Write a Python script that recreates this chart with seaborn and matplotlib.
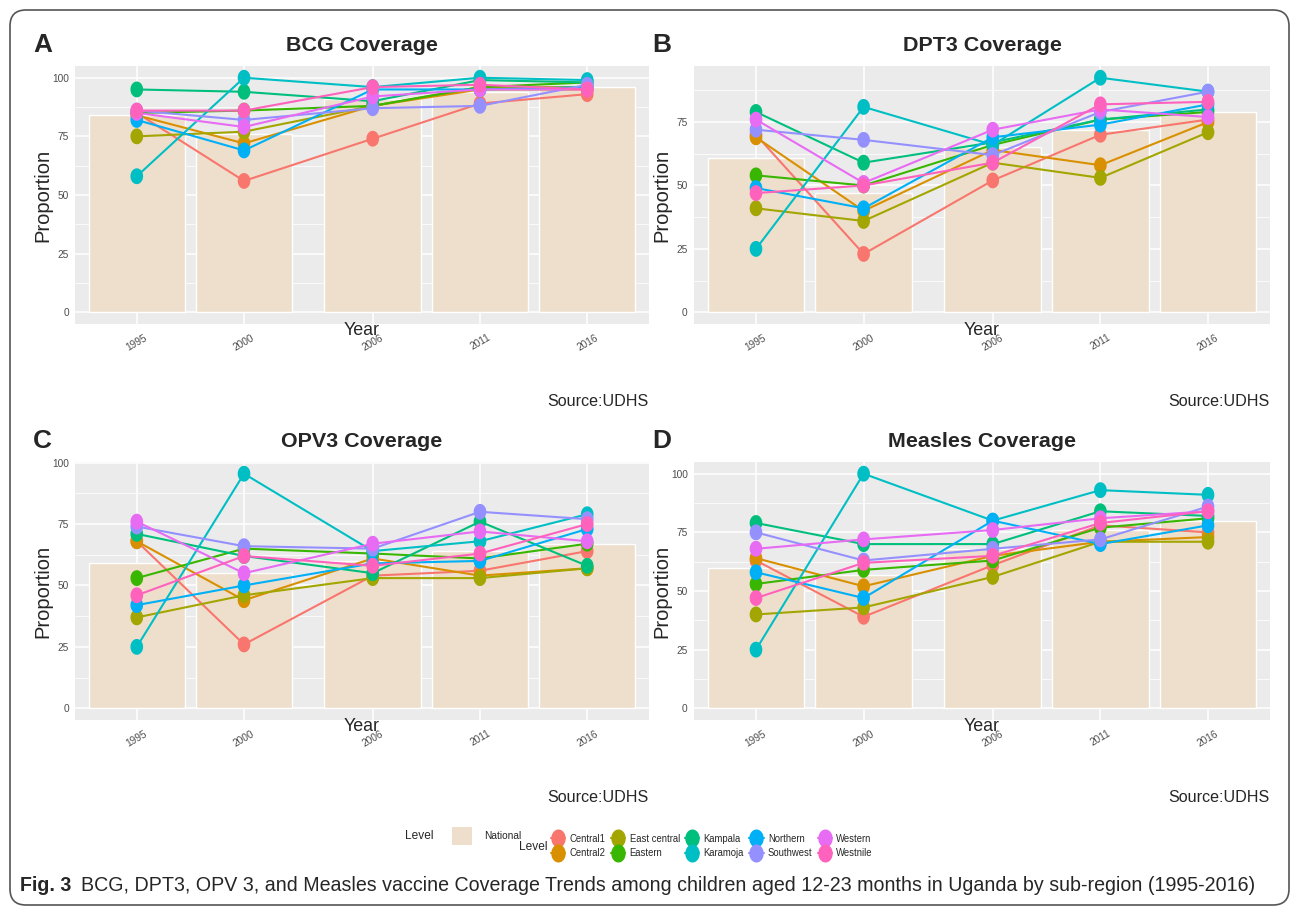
import numpy as np
import pandas as pd
import matplotlib
matplotlib.use("Agg")
import matplotlib.pyplot as plt
import seaborn as sns
from matplotlib import font_manager
from matplotlib.path import Path
from matplotlib.patches import FancyBboxPatch, Patch
from matplotlib.lines import Line2D
from matplotlib.transforms import IdentityTransform

# ---------------- data ----------------
years = [1995, 2000, 2006, 2011, 2016]
year_labels = ["1995", "2000", "2006", "2011", "2016"]
levels = ["Central1", "Central2", "East central", "Eastern", "Kampala",
          "Karamoja", "Northern", "Southwest", "Western", "Westnile"]
level_colors = ["#F8766D", "#D89000", "#A3A500", "#39B600", "#00BF7D",
                "#00BFC4", "#00B0F6", "#9590FF", "#E76BF3", "#FF62BC"]

national_bcg = [84, 76, 91, 94, 96]
bcg = {
    "Central1":     [85, 56, 74, 89, 93],
    "Central2":     [84, 72, 88, 95, 95],
    "East central": [75, 77, 88, 96, 96],
    "Eastern":      [85, 86, 88, 96, 98],
    "Kampala":      [95, 94, 90, 99, 98],
    "Karamoja":     [58, 100, 96, 100, 99],
    "Northern":     [82, 69, 95, 95, 96],
    "Southwest":    [86, 82, 87, 88, 97],
    "Western":      [85, 79, 92, 95, 95],
    "Westnile":     [86, 86, 96, 97, 95],
}

national_dpt3 = [61, 47, 65, 72, 79]
dpt3 = {
    "Central1":     [70, 23, 52, 70, 76],
    "Central2":     [69, 40, 64, 58, 75],
    "East central": [41, 36, 59, 53, 71],
    "Eastern":      [54, 50, 66, 76, 79],
    "Kampala":      [79, 59, 67, 76, 80],
    "Karamoja":     [25, 81, 66, 92.5, 87],
    "Northern":     [49, 41, 69, 74, 82],
    "Southwest":    [72, 68, 62, 79, 87],
    "Western":      [76, 51, 72, 80, 77],
    "Westnile":     [47, 50, 59, 82, 83],
}

national_opv3 = [59, 55, 60, 64, 67]
opv3 = {
    "Central1":     [68, 26, 54, 56, 64],
    "Central2":     [68, 44, 61, 54, 57],
    "East central": [37, 46, 53, 53, 57],
    "Eastern":      [53, 65, 63, 61, 67],
    "Kampala":      [71, 62, 55, 76, 58],
    "Karamoja":     [25, 95.5, 64, 68, 79],
    "Northern":     [42, 50, 59, 60, 73],
    "Southwest":    [74, 66, 65, 80, 77],
    "Western":      [76, 55, 67, 72, 68],
    "Westnile":     [46, 62, 58, 63, 75],
}

national_measles = [60, 57, 68, 76, 80]
measles = {
    "Central1":     [63, 39, 61, 78, 75],
    "Central2":     [64, 52, 65, 71, 73],
    "East central": [40, 43, 56, 71, 71],
    "Eastern":      [53, 59, 63, 77, 81],
    "Kampala":      [79, 70, 70, 84, 82],
    "Karamoja":     [25, 100, 80, 93, 91],
    "Northern":     [58, 47, 80, 70, 78],
    "Southwest":    [75, 63, 68, 72, 86],
    "Western":      [68, 72, 76, 81, 84],
    "Westnile":     [47, 62, 65, 79, 84],
}

panel_titles = ["BCG Coverage", "DPT3 Coverage", "OPV3 Coverage", "Measles Coverage"]
panel_letters = ["A", "B", "C", "D"]
y_major = [0, 25, 50, 75, 100]
y_minor = [12.5, 37.5, 62.5, 87.5]
source_text = "Source:UDHS"
caption_bold = "Fig. 3"
caption_text = ("BCG, DPT3, OPV 3, and Measles vaccine Coverage Trends among children "
                "aged 12-23 months in Uganda by sub-region (1995-2016)")

# ---------------- style ----------------
sns.set_theme(style="darkgrid")
available = {f.name for f in font_manager.fontManager.ttflist}
if "Liberation Sans Narrow" in available:
    NARROW = "Liberation Sans Narrow"
    k = 1.0
else:
    NARROW = "Liberation Sans"
    k = 0.86
plt.rcParams["font.family"] = [NARROW, "Liberation Sans", "DejaVu Sans"]

W, H = 1295, 913
fig = plt.figure(figsize=(W / 100, H / 100), dpi=100)
fig.patch.set_facecolor("white")


def fx(px):
    return px / W


def fy(py):
    return 1 - py / H


def rect(x0, y0, x1, y1):
    return [x0 / W, 1 - y1 / H, (x1 - x0) / W, (y1 - y0) / H]


bar_color = "#EEDFCC"
palette = dict(zip(levels, level_colors))
theta = np.linspace(0, 2 * np.pi, 49)
ellipse = Path(np.column_stack([0.8 * np.cos(theta), np.sin(theta)]), closed=True)

panels = [
    (national_bcg, bcg, (75, 66, 649, 324)),
    (national_dpt3, dpt3, (694, 66, 1270, 324)),
    (national_opv3, opv3, (75, 462, 649, 720)),
    (national_measles, measles, (694, 462, 1270, 720)),
]

for i, (national, vals, box) in enumerate(panels):
    x0, y0, x1, y1 = box
    ax = fig.add_axes(rect(*box))
    ax.set_facecolor("#EBEBEB")
    ax.set_axisbelow(True)

    df = pd.DataFrame([(lv, yr, v) for lv in levels for yr, v in zip(years, vals[lv])],
                      columns=["Level", "Year", "Proportion"])

    sns.barplot(x=years, y=national, native_scale=True, width=0.9, color=bar_color,
                saturation=1, errorbar=None, ax=ax, zorder=1)
    sns.lineplot(data=df, x="Year", y="Proportion", hue="Level", hue_order=levels,
                 palette=palette, estimator=None, linewidth=1.5, legend=False,
                 ax=ax, zorder=2)
    sns.scatterplot(data=df, x="Year", y="Proportion", hue="Level", hue_order=levels,
                    palette=palette, marker=ellipse, s=130, linewidth=0,
                    edgecolor="none", legend=False, ax=ax, zorder=3)

    ymax = max(df["Proportion"].max(), max(national))
    lo, hi = -0.05 * ymax, 1.05 * ymax
    ax.set_xlim(1992.12, 2018.88)
    ax.set_ylim(lo, hi)
    ax.set_yticks([t for t in y_major if t <= hi])
    ax.set_yticks([t for t in y_minor if t <= hi], minor=True)
    ax.set_xticks(years)
    ax.set_xticklabels(year_labels, rotation=30, ha="center")
    ax.grid(True, which="major", color="white", linewidth=1.1)
    ax.grid(True, which="minor", axis="y", color="white", linewidth=0.55)
    ax.grid(False, which="minor", axis="x")
    ax.tick_params(axis="both", which="major", length=3, width=0.8, color="#333333",
                   labelsize=8.5 * k, labelcolor="#4D4D4D", pad=1.5)
    ax.tick_params(axis="x", which="major", pad=3)
    ax.tick_params(which="minor", length=0)
    for sp in ax.spines.values():
        sp.set_visible(False)
    ax.set_xlabel("")
    ax.set_ylabel("")

    cx = (x0 + x1) / 2
    top = 52 if i < 2 else 448
    fig.text(fx(x0 - 42), fy(top), panel_letters[i], fontsize=22 * k,
             fontweight="bold", ha="left", va="baseline")
    fig.text(fx(cx), fy(top - 1), panel_titles[i], fontsize=18 * k,
             fontweight="bold", ha="center", va="baseline")
    fig.text(fx(x0 - 32), fy((y0 + y1) / 2), "Proportion", fontsize=14.5,
             family=["Liberation Sans", "DejaVu Sans"], rotation=90,
             ha="center", va="center")
    fig.text(fx(cx), fy(y1 + 6), "Year", fontsize=15 * k, ha="center", va="center")
    fig.text(fx(x1), fy(y1 + 82), source_text, fontsize=13.5 * k,
             ha="right", va="baseline")

# ---------------- legends ----------------
fig.text(fx(405), fy(836), "Level", fontsize=10 * k, ha="left", va="center")
fig.legend(handles=[Patch(facecolor=bar_color, edgecolor="none")], labels=["National"],
           loc="center left", bbox_to_anchor=(fx(452), fy(836)), frameon=False,
           handlelength=2.0, handleheight=2.3, handletextpad=1.2,
           fontsize=8.5 * k, borderpad=0, borderaxespad=0)

fig.text(fx(519), fy(847), "Level", fontsize=10 * k, ha="left", va="center")
handles = [Line2D([0], [0], color=c, lw=1.5, marker=ellipse, markersize=13,
                  markeredgewidth=0) for c in level_colors]
fig.legend(handles=handles, labels=levels, ncol=5, loc="center left",
           bbox_to_anchor=(fx(551), fy(846)), frameon=False, fontsize=8.0 * k,
           handlelength=1.5, handletextpad=0.45, columnspacing=0.55,
           labelspacing=0.5, borderpad=0, borderaxespad=0)

# ---------------- caption ----------------
cap_size = 13
t1 = fig.text(fx(20), fy(885), caption_bold, fontsize=cap_size, fontweight="bold",
              ha="left", va="center")
t2 = fig.text(fx(20), fy(885), caption_text, fontsize=cap_size, ha="left", va="center")
fig.canvas.draw()
r = fig.canvas.get_renderer()
w1 = t1.get_window_extent(r).width
w2 = t2.get_window_extent(r).width
gap = 10
scale = (1245 - 20 - gap) / (w1 + w2)
cap_size *= scale
t1.set_fontsize(cap_size)
t2.set_fontsize(cap_size)
fig.canvas.draw()
w1 = t1.get_window_extent(r).width
t2.set_position((fx(20 + w1 + gap), fy(885)))

# ---------------- border ----------------
border = FancyBboxPatch((10, 8), 1279, 895, boxstyle="round,pad=0,rounding_size=16",
                        transform=IdentityTransform(), facecolor="none",
                        edgecolor="#555555", linewidth=1.2)
fig.patches.append(border)

fig.savefig("out.png", dpi=100, facecolor="white")
